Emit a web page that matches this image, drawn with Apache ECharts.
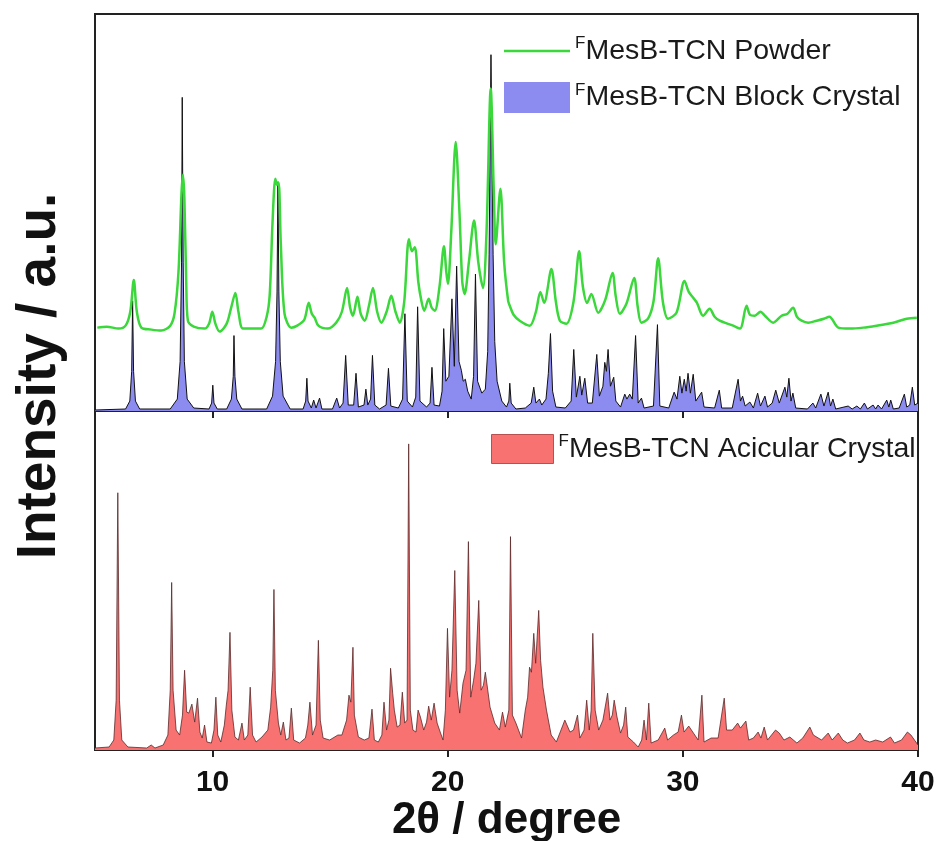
<!DOCTYPE html>
<html>
<head>
<meta charset="utf-8">
<script src="https://cdn.jsdelivr.net/npm/echarts@6/dist/echarts.min.js"></script>
<style>html,body{margin:0;padding:0;background:#fff}#c{width:940px;height:841px}</style>
</head>
<body>
<div id="c"></div>
<script>
// ---- data (2θ in degree, intensity in a.u.) ----
const xTicks = [10, 20, 30, 40];
const seriesNames = ['Powder', 'Block Crystal', 'Acicular Crystal'];

const powder = [[5.1,84],[5.5,85],[6.0,83],[6.3,86],[6.5,100],[6.65,132],[6.78,100],[6.97,84],[7.4,82],[7.82,81],[8.2,86],[8.38,98],[8.55,140],[8.68,220],[8.74,238],[8.8,215],[8.88,130],[8.95,91],[9.2,85],[9.66,83],[9.85,88],[9.99,100],[10.12,88],[10.3,80],[10.6,88],[10.8,105],[10.97,119],[11.1,100],[11.29,83],[11.7,83],[12.07,83],[12.3,95],[12.43,117],[12.55,190],[12.67,234],[12.74,228],[12.81,230],[12.9,170],[13.06,98],[13.35,84],[13.6,86],[13.9,92],[14.09,109],[14.22,98],[14.34,94],[14.5,86],[14.9,83],[15.26,89],[15.5,100],[15.72,124],[15.85,104],[15.97,96],[16.16,115],[16.3,98],[16.47,91],[16.65,106],[16.82,124],[17.0,100],[17.18,89],[17.4,100],[17.6,116],[17.78,100],[17.96,89],[18.15,110],[18.35,173],[18.48,161],[18.6,165],[18.75,130],[18.88,111],[19.0,101],[19.19,113],[19.32,104],[19.45,101],[19.65,125],[19.84,166],[19.94,140],[20.01,128],[20.15,180],[20.34,271],[20.5,200],[20.62,130],[20.72,118],[20.9,150],[21.12,192],[21.3,150],[21.5,124],[21.65,180],[21.83,325],[21.96,220],[22.04,168],[22.24,224],[22.4,150],[22.57,111],[22.64,106],[22.8,97],[23.06,91],[23.49,86],[23.75,100],[23.94,120],[24.1,109],[24.41,143],[24.6,110],[24.77,91],[25.05,88],[25.35,110],[25.59,161],[25.75,125],[25.93,109],[26.11,118],[26.4,99],[26.7,112],[27.01,139],[27.15,115],[27.32,98],[27.6,108],[27.93,134],[28.08,105],[28.24,89],[28.52,93],[28.75,110],[28.95,154],[29.15,110],[29.37,93],[29.73,99],[30.07,131],[30.25,120],[30.44,114],[30.6,109],[30.86,96],[31.14,103],[31.35,95],[31.57,91],[32.14,86],[32.43,83],[32.71,106],[32.85,97],[33.06,96],[33.3,100],[33.49,96],[33.84,89],[34.2,96],[34.45,98],[34.69,104],[34.85,95],[35.05,91],[35.33,89],[35.69,91],[36.0,93],[36.23,95],[36.61,84],[37.11,83],[37.67,84],[38.24,86],[38.95,89],[39.52,93],[39.95,94]];

const blockCrystal = [[5.0,1],[6.3,2],[6.48,10],[6.56,40],[6.6,111],[6.64,40],[6.72,10],[6.9,2],[8.2,2],[8.5,12],[8.62,50],[8.68,150],[8.71,316],[8.75,150],[8.8,50],[8.92,12],[9.2,3],[9.85,2],[9.96,8],[10.01,26],[10.06,8],[10.2,2],[10.6,2],[10.8,12],[10.88,35],[10.91,76],[10.95,35],[11.03,12],[11.25,2],[12.3,2],[12.55,15],[12.68,50],[12.74,120],[12.78,231],[12.82,120],[12.88,50],[13.0,15],[13.3,2],[13.85,2],[13.96,10],[14.01,33],[14.06,10],[14.2,3],[14.3,11],[14.4,3],[14.55,13],[14.65,2],[15.1,2],[15.28,13],[15.4,3],[15.55,8],[15.66,56],[15.77,6],[16.0,6],[16.1,38],[16.2,4],[16.44,6],[16.52,22],[16.6,6],[16.72,12],[16.8,56],[16.9,6],[17.1,2],[17.38,6],[17.48,43],[17.58,5],[17.9,3],[18.08,12],[18.18,98],[18.28,10],[18.5,4],[18.64,14],[18.72,105],[18.82,10],[19.1,4],[19.25,8],[19.33,44],[19.42,6],[19.65,5],[19.76,20],[19.83,83],[19.92,30],[20.05,35],[20.18,113],[20.28,45],[20.38,146],[20.48,50],[20.58,41],[20.66,30],[20.75,32],[20.85,20],[21.0,12],[21.1,35],[21.18,138],[21.27,30],[21.45,18],[21.6,22],[21.7,60],[21.76,158],[21.84,359],[21.93,158],[22.0,70],[22.1,30],[22.3,10],[22.5,4],[22.6,10],[22.64,28],[22.7,8],[22.9,2],[23.3,3],[23.55,8],[23.66,24],[23.75,8],[23.9,12],[24.0,6],[24.18,12],[24.28,38],[24.37,78],[24.46,20],[24.6,4],[25.0,3],[25.25,10],[25.36,62],[25.47,14],[25.62,35],[25.7,16],[25.83,33],[25.95,8],[26.15,8],[26.34,57],[26.45,15],[26.6,25],[26.68,49],[26.75,40],[26.82,62],[26.92,25],[27.06,34],[27.15,10],[27.35,4],[27.53,17],[27.62,12],[27.74,17],[27.85,12],[27.99,76],[28.1,8],[28.24,13],[28.35,3],[28.75,5],[28.92,87],[29.02,5],[29.4,3],[29.63,19],[29.75,12],[29.87,35],[29.96,18],[30.06,32],[30.14,20],[30.22,38],[30.32,18],[30.44,37],[30.55,10],[30.8,19],[30.9,4],[31.35,3],[31.55,21],[31.65,3],[32.1,3],[32.35,32],[32.45,10],[32.54,15],[32.65,5],[32.85,9],[33.0,3],[33.18,18],[33.3,5],[33.49,15],[33.6,4],[33.8,8],[33.95,21],[34.1,8],[34.34,24],[34.42,14],[34.51,33],[34.6,10],[34.68,18],[34.8,3],[35.3,2],[35.53,8],[35.65,3],[35.87,17],[36.0,5],[36.18,19],[36.28,5],[36.38,12],[36.5,2],[37.03,5],[37.2,2],[37.4,5],[37.55,2],[37.72,8],[37.85,2],[38.09,6],[38.2,2],[38.3,6],[38.45,2],[38.67,11],[38.76,4],[38.84,11],[38.95,2],[39.2,3],[39.42,17],[39.52,4],[39.65,6],[39.76,24],[39.86,6],[40,8]];

const acicularCrystal = [[5.0,2],[5.6,3],[5.8,10],[5.9,50],[5.97,258],[6.04,50],[6.14,10],[6.4,3],[7.2,2],[7.39,5],[7.55,2],[7.9,5],[8.1,15],[8.2,60],[8.26,168],[8.32,60],[8.45,20],[8.6,15],[8.72,35],[8.81,80],[8.9,38],[8.99,37],[9.12,46],[9.24,28],[9.36,52],[9.46,18],[9.56,12],[9.66,25],[9.76,8],[9.95,7],[10.06,20],[10.14,53],[10.22,15],[10.35,8],[10.5,25],[10.58,44],[10.66,60],[10.74,118],[10.82,40],[10.95,13],[11.1,10],[11.25,27],[11.35,10],[11.5,15],[11.6,63],[11.7,15],[11.85,8],[12.1,13],[12.35,20],[12.47,43],[12.56,80],[12.61,161],[12.67,60],[12.8,27],[12.9,15],[13.01,28],[13.12,10],[13.25,12],[13.35,42],[13.45,10],[13.7,7],[13.95,12],[14.05,25],[14.14,48],[14.25,15],[14.4,25],[14.5,110],[14.58,30],[14.7,12],[14.98,10],[15.33,15],[15.5,15],[15.7,30],[15.8,55],[15.88,48],[15.97,103],[16.03,35],[16.2,13],[16.45,10],[16.65,12],[16.78,41],[16.88,10],[17.05,8],[17.2,15],[17.29,48],[17.4,20],[17.5,30],[17.57,82],[17.66,57],[17.73,40],[17.85,23],[17.97,25],[18.07,58],[18.17,27],[18.27,30],[18.34,307],[18.41,40],[18.52,20],[18.65,18],[18.74,40],[18.84,33],[18.98,20],[19.1,28],[19.19,44],[19.3,30],[19.42,47],[19.55,27],[19.68,18],[19.8,10],[19.9,40],[19.99,122],[20.08,53],[20.18,80],[20.3,180],[20.4,60],[20.51,37],[20.65,67],[20.78,80],[20.88,209],[20.98,53],[21.1,70],[21.2,87],[21.32,150],[21.42,60],[21.52,65],[21.6,78],[21.67,77],[21.8,43],[22.0,27],[22.2,20],[22.33,38],[22.45,23],[22.6,40],[22.67,214],[22.75,35],[22.9,27],[23.14,12],[23.3,40],[23.4,53],[23.48,83],[23.56,78],[23.66,117],[23.74,87],[23.87,140],[23.95,90],[24.05,63],[24.2,40],[24.4,15],[24.62,8],[24.9,25],[24.98,30],[25.2,18],[25.35,20],[25.52,35],[25.62,12],[25.8,20],[25.91,50],[26.02,20],[26.1,40],[26.17,117],[26.27,40],[26.42,20],[26.6,30],[26.8,57],[26.9,30],[27.0,35],[27.08,50],[27.2,33],[27.35,17],[27.48,25],[27.57,43],[27.66,13],[27.9,8],[28.1,3],[28.25,10],[28.35,30],[28.45,10],[28.55,47],[28.65,7],[28.95,10],[29.23,22],[29.35,10],[29.6,15],[29.8,18],[29.94,35],[30.05,18],[30.25,24],[30.45,17],[30.65,10],[30.81,55],[30.9,8],[31.2,12],[31.5,12],[31.76,52],[31.86,20],[32.1,20],[32.33,27],[32.45,22],[32.68,29],[32.8,10],[33.0,12],[33.2,18],[33.32,12],[33.46,23],[33.6,10],[33.94,20],[34.1,17],[34.3,10],[34.55,13],[34.85,7],[35.1,12],[35.4,23],[35.55,15],[35.9,10],[36.18,17],[36.35,10],[36.61,17],[36.8,10],[37.0,7],[37.3,10],[37.53,17],[37.7,10],[37.95,8],[38.2,10],[38.5,8],[38.83,13],[39.0,7],[39.3,10],[39.55,18],[39.7,15],[39.85,10],[40,5]];

// ---- chart ----
const GREEN = '#3ad83a', BLUE = '#8c8cf0', RED = '#f87272';
const FONT = '"Liberation Sans", Arial, sans-serif';
const legendRich = {
  sup: { fontSize: 17, fontFamily: FONT, color: '#1a1a1a', verticalAlign: 'top', lineHeight: 14 },
  t: { fontSize: 28.5, fontFamily: FONT, color: '#1a1a1a', lineHeight: 32 }
};
const legendFmt = n => '{sup|F}{t|MesB-TCN ' + n + '}';

const chart = echarts.init(document.getElementById('c'), null, { renderer: 'canvas' });
chart.setOption({
  animation: false,
  backgroundColor: '#fff',
  grid: [
    { left: 95, top: 14, width: 823, height: 397, show: true, borderColor: '#222', borderWidth: 2, backgroundColor: 'transparent', outerBoundsMode: 'none', containLabel: false },
    { left: 95, top: 411, width: 823, height: 339, show: true, borderColor: '#222', borderWidth: 2, backgroundColor: 'transparent', outerBoundsMode: 'none', containLabel: false }
  ],
  xAxis: [
    { gridIndex: 0, type: 'value', min: 5, max: 40,
      axisLine: { show: true, lineStyle: { color: '#222', width: 2 } },
      axisTick: { show: true, inside: false, length: 7, lineStyle: { color: '#222', width: 2 }, customValues: xTicks },
      axisLabel: { show: false }, splitLine: { show: false } },
    { gridIndex: 1, type: 'value', min: 5, max: 40,
      axisLine: { show: true, lineStyle: { color: '#222', width: 2 } },
      axisTick: { show: true, inside: false, length: 7, lineStyle: { color: '#222', width: 2 }, customValues: xTicks },
      axisLabel: { show: true, customValues: xTicks, margin: 18, fontSize: 30, fontWeight: 'bold', color: '#111', fontFamily: FONT },
      splitLine: { show: false },
      name: '2θ / degree', nameLocation: 'middle', nameGap: 40,
      nameTextStyle: { fontSize: 44, fontWeight: 'bold', color: '#111', fontFamily: FONT, verticalAlign: 'top', lineHeight: 44 } }
  ],
  yAxis: [
    { gridIndex: 0, type: 'value', min: 0, max: 400, show: true, axisLine: { show: false }, axisTick: { show: false }, axisLabel: { show: false }, splitLine: { show: false } },
    { gridIndex: 1, type: 'value', min: 0, max: 340, show: true, axisLine: { show: false }, axisTick: { show: false }, axisLabel: { show: false }, splitLine: { show: false } }
  ],
  legend: [
    { orient: 'vertical', left: 499, top: 30, itemWidth: 66, itemHeight: 31, itemGap: 16, selectedMode: false,
      formatter: legendFmt, textStyle: { rich: legendRich },
      data: [ { name: seriesNames[0], icon: 'path://M0,0 H66 V2.6 H0 Z', itemStyle: { color: GREEN } },
              { name: seriesNames[1], icon: 'rect', itemStyle: { color: BLUE, borderWidth: 0 } } ] },
    { orient: 'vertical', left: 486, top: 428, itemWidth: 62, itemHeight: 29, selectedMode: false,
      formatter: legendFmt, textStyle: { rich: legendRich },
      data: [ { name: seriesNames[2], icon: 'rect', itemStyle: { color: RED, borderColor: '#b85050', borderWidth: 1 } } ] }
  ],
  series: [
    { name: seriesNames[1], type: 'line', xAxisIndex: 0, yAxisIndex: 0, data: blockCrystal,
      symbol: 'none', showSymbol: false, lineStyle: { color: '#111', width: 1 },
      itemStyle: { color: BLUE }, areaStyle: { color: BLUE, opacity: 1 }, z: 2 },
    { name: seriesNames[0], type: 'line', xAxisIndex: 0, yAxisIndex: 0, data: powder,
      symbol: 'none', showSymbol: false, smooth: 0.3, lineStyle: { color: GREEN, width: 2.5 },
      itemStyle: { color: GREEN }, z: 3 },
    { name: seriesNames[2], type: 'line', xAxisIndex: 1, yAxisIndex: 1, data: acicularCrystal,
      symbol: 'none', showSymbol: false, lineStyle: { color: '#5a2a2a', width: 0.8 },
      itemStyle: { color: RED }, areaStyle: { color: RED, opacity: 1 }, z: 2 }
  ],
  graphic: [
    { type: 'text', x: 40, y: 376, rotation: Math.PI / 2,
      style: { text: 'Intensity / a.u.', font: 'bold 55px ' + FONT, fill: '#111', textAlign: 'center', textVerticalAlign: 'middle' } }
  ]
});
</script>
</body>
</html>
